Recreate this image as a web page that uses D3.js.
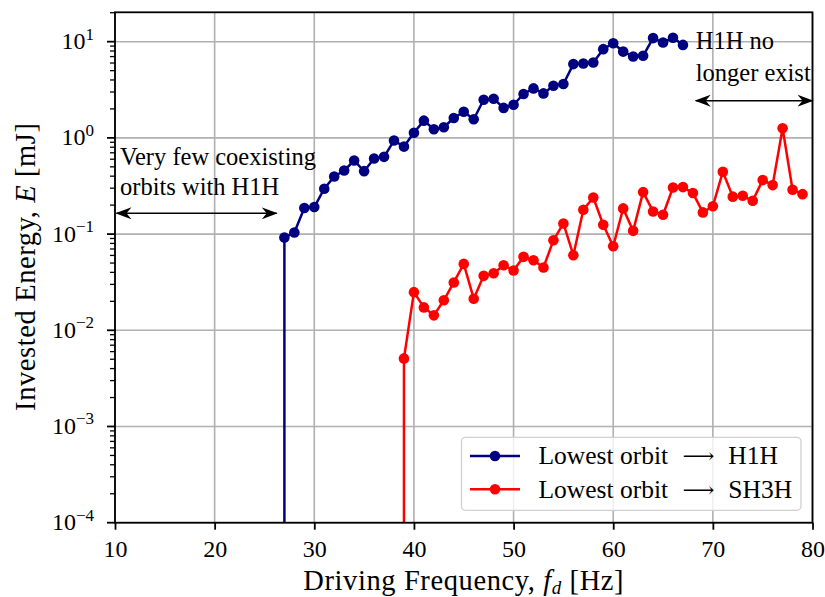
<!DOCTYPE html>
<html>
<head>
<meta charset="utf-8">
<script src="https://cdn.jsdelivr.net/npm/d3@7"></script>
<style>
  body { margin: 0; background: #fff; }
  svg text { font-family: "Liberation Serif", "DejaVu Serif", serif; fill: #000; }
</style>
</head>
<body>
<div id="chart"></div>
<script>
// data
var freqH1H = [27, 28, 29, 30, 31, 32, 33, 34, 35, 36, 37, 38, 39, 40, 41, 42, 43, 44, 45, 46,
    47, 48, 49, 50, 51, 52, 53, 54, 55, 56, 57, 58, 59, 60, 61, 62, 63, 64, 65, 66, 67];
var energyH1H = [0.092, 0.104, 0.187, 0.191, 0.296, 0.397, 0.458, 0.582, 0.451, 0.610, 0.635,
    0.938, 0.812, 1.13, 1.51, 1.23, 1.29, 1.61, 1.87, 1.56, 2.49, 2.55, 2.05, 2.21, 2.86, 3.27,
    2.90, 3.48, 3.63, 5.85, 5.93, 6.08, 8.36, 9.64, 7.89, 7.01, 7.13, 10.9, 9.79, 11.0, 9.26];

var freqSH3H = [39, 40, 41, 42, 43, 44, 45, 46, 47, 48, 49, 50, 51, 52, 53, 54, 55, 56, 57, 58,
    59, 60, 61, 62, 63, 64, 65, 66, 67, 68, 69, 70, 71, 72, 73, 74, 75, 76, 77, 78, 79];
var energySH3H = [0.0051, 0.0249, 0.0173, 0.0143, 0.0205, 0.0314, 0.049, 0.0213, 0.0368, 0.0392,
    0.0475, 0.0418, 0.058, 0.0535, 0.045, 0.0862, 0.129, 0.0603, 0.179, 0.240, 0.125, 0.0748,
    0.185, 0.108, 0.273, 0.172, 0.159, 0.305, 0.308, 0.267, 0.168, 0.195, 0.444, 0.245, 0.250,
    0.222, 0.364, 0.323, 1.26, 0.289, 0.260];

var xTicks = [10, 20, 30, 40, 50, 60, 70, 80];
var yTickExp = [-4, -3, -2, -1, 0, 1];

var svgWidth = 825;
var svgHeight = 597;
var margin = { top: 12.3, right: 12.5, bottom: 74.3, left: 115 };
var width = svgWidth - margin.left - margin.right;
var height = svgHeight - margin.top - margin.bottom;

var svg = d3.select("#chart").append("svg")
    .attr("width", svgWidth)
    .attr("height", svgHeight);

var defs = svg.append("defs");
defs.append("clipPath").attr("id", "plotClip")
    .append("rect").attr("width", width).attr("height", height);

// concave arrow head like matplotlib's "<->"
defs.append("marker")
    .attr("id", "head")
    .attr("viewBox", "0 0 16 12")
    .attr("refX", 15).attr("refY", 6)
    .attr("markerWidth", 16).attr("markerHeight", 12)
    .attr("markerUnits", "userSpaceOnUse")
    .attr("orient", "auto-start-reverse")
    .append("path")
    .attr("d", "M0,0 L16,6 L0,12 L5,6 Z")
    .attr("fill", "#000");

var chartGroup = svg.append("g")
    .attr("transform", `translate(${margin.left},${margin.top})`);

var xScale = d3.scaleLinear().domain([10, 80]).range([0, width]);
var yScale = d3.scaleLog().domain([1e-4, 20.2]).range([height, 0]);

// grid
var grid = chartGroup.append("g");
grid.selectAll(".vgrid").data(xTicks).enter().append("line")
    .attr("x1", d => xScale(d)).attr("x2", d => xScale(d))
    .attr("y1", 0).attr("y2", height)
    .attr("stroke", "#b0b0b0").attr("stroke-width", 1.6);
grid.selectAll(".hgrid").data(yTickExp).enter().append("line")
    .attr("x1", 0).attr("x2", width)
    .attr("y1", d => yScale(Math.pow(10, d))).attr("y2", d => yScale(Math.pow(10, d)))
    .attr("stroke", "#b0b0b0").attr("stroke-width", 1.6);

// axes
var bottomAxis = d3.axisBottom(xScale).tickValues(xTicks).tickSize(7);
var xAxis = chartGroup.append("g")
    .attr("transform", `translate(0, ${height})`)
    .call(bottomAxis);
xAxis.select(".domain").remove();
xAxis.selectAll("line").attr("stroke", "#000").attr("stroke-width", 1.8);
xAxis.selectAll("text")
    .attr("font-size", "24px")
    .attr("font-family", "Liberation Serif")
    .attr("y", 34).attr("dy", null);

var minorY = [];
yTickExp.slice(0, -1).forEach(function(e) {
    for (var k = 2; k <= 9; k++) minorY.push(k * Math.pow(10, e));
});
for (var k = 2; k <= 9; k++) {
    if (k * 10 <= 20.2) minorY.push(k * 10);
}
var yAxisG = chartGroup.append("g");
yAxisG.selectAll(".minor").data(minorY).enter().append("line")
    .attr("x1", -5).attr("x2", 0)
    .attr("y1", d => yScale(d)).attr("y2", d => yScale(d))
    .attr("stroke", "#000").attr("stroke-width", 1.3);
yAxisG.selectAll(".major").data(yTickExp).enter().append("line")
    .attr("x1", -8).attr("x2", 0)
    .attr("y1", d => yScale(Math.pow(10, d))).attr("y2", d => yScale(Math.pow(10, d)))
    .attr("stroke", "#000").attr("stroke-width", 1.8);
var yLab = yAxisG.selectAll(".ylab").data(yTickExp).enter().append("text")
    .attr("x", -21)
    .attr("y", d => yScale(Math.pow(10, d)) + 7.5)
    .attr("text-anchor", "end")
    .attr("font-size", "24px");
yLab.append("tspan").text("10");
yLab.append("tspan").attr("dy", -9.5).attr("font-size", "17px")
    .text(d => d < 0 ? "\u2212" + (-d) : String(d));

// series
var line = d3.line().x(d => xScale(d[0])).y(d => yScale(d[1]));
var plot = chartGroup.append("g").attr("clip-path", "url(#plotClip)");

function drawSeries(freqs, energies, color) {
    var pts = freqs.map((f, i) => [f, energies[i]]);
    // series starts from zero energy below the first point, so the line drops off the log axis
    plot.append("line")
        .attr("x1", xScale(freqs[0])).attr("x2", xScale(freqs[0]))
        .attr("y1", yScale(energies[0])).attr("y2", height + 5)
        .attr("stroke", color).attr("stroke-width", 2.5);
    plot.append("path")
        .datum(pts)
        .attr("d", line)
        .attr("fill", "none")
        .attr("stroke", color)
        .attr("stroke-width", 2.5)
        .attr("stroke-linejoin", "round");
    plot.append("g").selectAll("circle")
        .data(pts).enter().append("circle")
        .attr("cx", d => xScale(d[0]))
        .attr("cy", d => yScale(d[1]))
        .attr("r", 5.3)
        .attr("fill", color);
}
drawSeries(freqH1H, energyH1H, "#000080");
drawSeries(freqSH3H, energySH3H, "#ff0000");

// annotations
var ann = chartGroup.append("g");
ann.append("text").attr("x", 5).attr("y", 153).attr("font-size", "24.5px").text("Very few coexisting");
ann.append("text").attr("x", 5).attr("y", 183).attr("font-size", "24.5px").text("orbits with H1H");
ann.append("line")
    .attr("x1", 1.5).attr("x2", xScale(26.23))
    .attr("y1", 201).attr("y2", 201)
    .attr("stroke", "#000").attr("stroke-width", 1.5)
    .attr("marker-start", "url(#head)").attr("marker-end", "url(#head)");

ann.append("text").attr("x", xScale(68.28)).attr("y", 37).attr("font-size", "24.5px").text("H1H no");
ann.append("text").attr("x", xScale(68.28)).attr("y", 68.5).attr("font-size", "24.5px").text("longer exist");
ann.append("line")
    .attr("x1", xScale(68.28)).attr("x2", width)
    .attr("y1", 88.4).attr("y2", 88.4)
    .attr("stroke", "#000").attr("stroke-width", 1.5)
    .attr("marker-start", "url(#head)").attr("marker-end", "url(#head)");

// frame
chartGroup.append("rect")
    .attr("width", width).attr("height", height)
    .attr("fill", "none").attr("stroke", "#000").attr("stroke-width", 1.8);

// legend
var legend = chartGroup.append("g").attr("transform", "translate(346.5, 425)");
legend.append("rect")
    .attr("width", 339.5).attr("height", 73)
    .attr("rx", 4)
    .attr("fill", "#fff").attr("fill-opacity", 0.8)
    .attr("stroke", "#d0d0d0").attr("stroke-width", 1.3);
var legendItems = [
    { label: "H1H", color: "#000080" },
    { label: "SH3H", color: "#ff0000" }
];
legendItems.forEach(function(item, i) {
    var ly = 18.7 + i * 33.3;
    legend.append("line").attr("x1", 8.5).attr("x2", 58.5).attr("y1", ly).attr("y2", ly)
        .attr("stroke", item.color).attr("stroke-width", 2.5);
    legend.append("circle").attr("cx", 33.5).attr("cy", ly).attr("r", 5.3).attr("fill", item.color);
    legend.append("text").attr("x", 77).attr("y", ly + 8.3).attr("font-size", "25.5px")
        .text("Lowest orbit");
    legend.append("text").attr("x", 221).attr("y", ly + 7.5)
        .attr("font-family", "DejaVu Sans").attr("font-size", "21px")
        .attr("textLength", 32).attr("lengthAdjust", "spacingAndGlyphs")
        .text("\u27F6");
    legend.append("text").attr("x", 266.8).attr("y", ly + 8.3).attr("font-size", "25.5px")
        .text(item.label);
});

// axis labels
var xLabel = chartGroup.append("text")
    .attr("x", width / 2)
    .attr("y", height + 67)
    .attr("text-anchor", "middle")
    .attr("letter-spacing", "0.6px")
    .attr("font-size", "28.5px");
xLabel.append("tspan").text("Driving Frequency, ");
xLabel.append("tspan").attr("font-style", "italic").text("f");
xLabel.append("tspan").attr("font-style", "italic").attr("font-size", "19px").attr("dy", 4).text("d");
xLabel.append("tspan").attr("dy", -4).text(" [Hz]");

var yLabel = chartGroup.append("text")
    .attr("transform", "rotate(-90)")
    .attr("x", -(254.4))
    .attr("y", -80)
    .attr("text-anchor", "middle")
    .attr("letter-spacing", "0.6px")
    .attr("font-size", "28.5px");
yLabel.append("tspan").text("Invested Energy, ");
yLabel.append("tspan").attr("font-style", "italic").text("E");
yLabel.append("tspan").text(" [mJ]");
</script>
</body>
</html>
